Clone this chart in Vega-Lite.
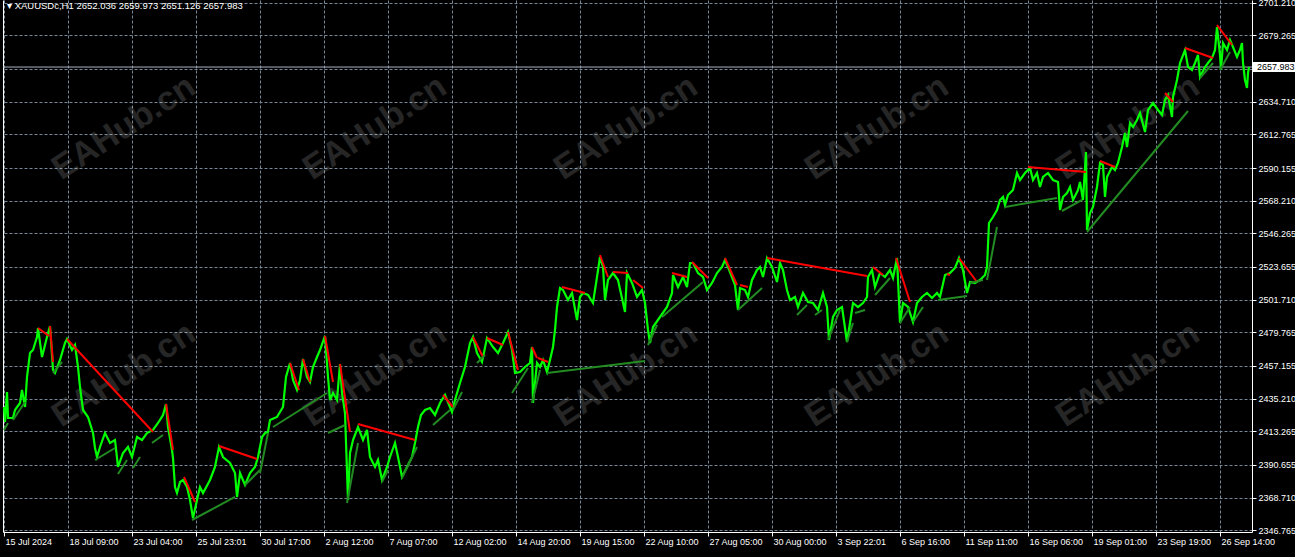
{
  "$schema": "https://vega.github.io/schema/vega-lite/v6.json",
  "width": 1249,
  "height": 532,
  "autosize": {"type": "none"},
  "padding": {"left": 3, "top": 0, "right": 43, "bottom": 25},
  "background": "#000000",
  "title": {
    "text": "▾ XAUUSDc,H1  2652.036 2659.973 2651.126 2657.983",
    "anchor": "start",
    "frame": "group",
    "orient": "top",
    "offset": -12,
    "dx": 4,
    "font": "Liberation Sans",
    "fontSize": 9.5,
    "fontWeight": "normal",
    "color": "#ffffff"
  },
  "config": {
    "view": {"stroke": null},
    "axis": {
      "domainColor": "#ffffff",
      "domainWidth": 1,
      "tickColor": "#ffffff",
      "labelColor": "#ffffff",
      "labelFont": "Liberation Sans",
      "labelFontSize": 9,
      "gridColor": "#778899",
      "gridDash": [3, 2],
      "gridWidth": 1,
      "title": null
    }
  },
  "datasets": {
    "bars": [
      {"bar":0,"price":2429.60},{"bar":1,"price":2419.52},{"bar":3,"price":2439.67},{"bar":4,"price":2422.21},{"bar":9,"price":2422.21},{"bar":11,"price":2427.58},{"bar":16,"price":2432.28},{"bar":18,"price":2441.02},{"bar":21,"price":2429.60},{"bar":23,"price":2449.75},{"bar":26,"price":2465.87},{"bar":29,"price":2467.89},{"bar":33,"price":2476.62},{"bar":34,"price":2482.67},{"bar":38,"price":2463.19},{"bar":43,"price":2476.62},{"bar":46,"price":2484.01},{"bar":49,"price":2454.45},{"bar":51,"price":2452.44},{"bar":56,"price":2461.17},{"bar":61,"price":2472.59},{"bar":63,"price":2475.28},{"bar":68,"price":2467.89},{"bar":71,"price":2471.25},{"bar":74,"price":2456.47},{"bar":76,"price":2443.03},{"bar":79,"price":2427.58},{"bar":84,"price":2422.88},{"bar":89,"price":2412.13},{"bar":91,"price":2402.05},{"bar":93,"price":2396.01},{"bar":96,"price":2402.73},{"bar":101,"price":2412.13},{"bar":106,"price":2405.41},{"bar":111,"price":2407.43},{"bar":114,"price":2389.29},{"bar":119,"price":2398.69},{"bar":124,"price":2402.73},{"bar":128,"price":2396.01},{"bar":133,"price":2409.44},{"bar":138,"price":2407.43},{"bar":143,"price":2412.13},{"bar":149,"price":2414.15},{"bar":154,"price":2418.85},{"bar":159,"price":2424.22},{"bar":162,"price":2431.61},{"bar":164,"price":2416.16},{"bar":168,"price":2400.71},{"bar":169,"price":2395.34},{"bar":171,"price":2375.85},{"bar":173,"price":2371.82},{"bar":176,"price":2379.21},{"bar":179,"price":2380.56},{"bar":183,"price":2375.85},{"bar":186,"price":2367.12},{"bar":189,"price":2355.03},{"bar":193,"price":2367.12},{"bar":196,"price":2375.85},{"bar":199,"price":2371.82},{"bar":206,"price":2380.56},{"bar":211,"price":2389.29},{"bar":215,"price":2402.73},{"bar":219,"price":2396.01},{"bar":226,"price":2391.98},{"bar":231,"price":2385.26},{"bar":233,"price":2369.14},{"bar":236,"price":2385.26},{"bar":241,"price":2377.20},{"bar":246,"price":2385.26},{"bar":251,"price":2389.29},{"bar":254,"price":2396.01},{"bar":258,"price":2409.44},{"bar":261,"price":2412.13},{"bar":264,"price":2412.80},{"bar":266,"price":2420.86},{"bar":273,"price":2422.88},{"bar":279,"price":2429.60},{"bar":282,"price":2449.75},{"bar":286,"price":2459.16},{"bar":289,"price":2447.74},{"bar":293,"price":2441.02},{"bar":296,"price":2447.74},{"bar":299,"price":2461.84},{"bar":303,"price":2449.75},{"bar":306,"price":2446.39},{"bar":309,"price":2456.47},{"bar":313,"price":2463.19},{"bar":316,"price":2467.89},{"bar":321,"price":2477.30},{"bar":324,"price":2449.75},{"bar":326,"price":2434.30},{"bar":329,"price":2439.00},{"bar":333,"price":2434.30},{"bar":336,"price":2458.48},{"bar":338,"price":2439.00},{"bar":341,"price":2425.57},{"bar":344,"price":2367.12},{"bar":346,"price":2398.69},{"bar":349,"price":2407.43},{"bar":354,"price":2416.16},{"bar":359,"price":2407.43},{"bar":363,"price":2414.15},{"bar":366,"price":2396.01},{"bar":371,"price":2389.29},{"bar":374,"price":2393.99},{"bar":378,"price":2380.56},{"bar":383,"price":2389.29},{"bar":386,"price":2396.01},{"bar":391,"price":2405.41},{"bar":394,"price":2396.01},{"bar":398,"price":2382.57},{"bar":403,"price":2389.29},{"bar":408,"price":2396.01},{"bar":411,"price":2405.41},{"bar":414,"price":2416.16},{"bar":417,"price":2424.22},{"bar":421,"price":2427.58},{"bar":426,"price":2428.93},{"bar":431,"price":2424.22},{"bar":436,"price":2432.28},{"bar":441,"price":2437.66},{"bar":448,"price":2426.24},{"bar":451,"price":2434.30},{"bar":456,"price":2445.72},{"bar":461,"price":2456.47},{"bar":466,"price":2472.59},{"bar":469,"price":2476.62},{"bar":473,"price":2465.87},{"bar":478,"price":2459.83},{"bar":483,"price":2475.95},{"bar":489,"price":2469.91},{"bar":494,"price":2465.87},{"bar":499,"price":2472.59},{"bar":504,"price":2479.98},{"bar":508,"price":2467.89},{"bar":511,"price":2452.44},{"bar":516,"price":2453.11},{"bar":521,"price":2456.47},{"bar":526,"price":2459.16},{"bar":528,"price":2469.91},{"bar":529,"price":2432.28},{"bar":533,"price":2459.16},{"bar":536,"price":2456.47},{"bar":539,"price":2461.17},{"bar":543,"price":2453.11},{"bar":546,"price":2461.17},{"bar":549,"price":2469.91},{"bar":551,"price":2481.33},{"bar":553,"price":2496.78},{"bar":556,"price":2509.54},{"bar":559,"price":2508.20},{"bar":564,"price":2501.48},{"bar":568,"price":2506.18},{"bar":573,"price":2488.04},{"bar":576,"price":2503.50},{"bar":579,"price":2506.18},{"bar":584,"price":2504.84},{"bar":589,"price":2499.46},{"bar":593,"price":2516.93},{"bar":596,"price":2530.37},{"bar":599,"price":2523.65},{"bar":601,"price":2501.48},{"bar":604,"price":2514.92},{"bar":609,"price":2519.62},{"bar":614,"price":2514.92},{"bar":621,"price":2493.42},{"bar":623,"price":2519.62},{"bar":628,"price":2512.90},{"bar":633,"price":2503.50},{"bar":638,"price":2508.20},{"bar":641,"price":2499.46},{"bar":644,"price":2481.33},{"bar":646,"price":2472.59},{"bar":649,"price":2483.34},{"bar":656,"price":2490.06},{"bar":663,"price":2496.78},{"bar":668,"price":2506.18},{"bar":669,"price":2518.27},{"bar":674,"price":2510.21},{"bar":679,"price":2516.93},{"bar":683,"price":2510.21},{"bar":686,"price":2526.34},{"bar":689,"price":2526.34},{"bar":694,"price":2519.62},{"bar":699,"price":2516.93},{"bar":703,"price":2508.20},{"bar":708,"price":2512.90},{"bar":713,"price":2519.62},{"bar":718,"price":2523.65},{"bar":721,"price":2528.35},{"bar":726,"price":2520.29},{"bar":731,"price":2511.56},{"bar":734,"price":2494.76},{"bar":736,"price":2509.54},{"bar":741,"price":2508.20},{"bar":744,"price":2503.50},{"bar":748,"price":2514.92},{"bar":753,"price":2521.63},{"bar":756,"price":2523.65},{"bar":759,"price":2516.93},{"bar":763,"price":2529.70},{"bar":768,"price":2523.65},{"bar":773,"price":2513.57},{"bar":776,"price":2526.34},{"bar":779,"price":2521.63},{"bar":783,"price":2508.20},{"bar":786,"price":2501.48},{"bar":791,"price":2503.50},{"bar":794,"price":2496.78},{"bar":799,"price":2506.18},{"bar":804,"price":2500.14},{"bar":809,"price":2499.46},{"bar":814,"price":2494.76},{"bar":819,"price":2506.18},{"bar":823,"price":2496.78},{"bar":825,"price":2474.61},{"bar":829,"price":2490.06},{"bar":833,"price":2494.76},{"bar":838,"price":2496.78},{"bar":843,"price":2473.26},{"bar":846,"price":2486.03},{"bar":849,"price":2499.46},{"bar":854,"price":2496.78},{"bar":859,"price":2499.46},{"bar":863,"price":2503.50},{"bar":864,"price":2516.93},{"bar":868,"price":2521.63},{"bar":871,"price":2510.21},{"bar":876,"price":2519.62},{"bar":881,"price":2516.93},{"bar":886,"price":2521.63},{"bar":889,"price":2516.26},{"bar":893,"price":2529.70},{"bar":896,"price":2486.03},{"bar":899,"price":2499.46},{"bar":904,"price":2496.78},{"bar":909,"price":2486.70},{"bar":913,"price":2499.46},{"bar":918,"price":2503.50},{"bar":923,"price":2506.18},{"bar":928,"price":2502.82},{"bar":933,"price":2506.18},{"bar":936,"price":2503.50},{"bar":941,"price":2518.27},{"bar":946,"price":2519.62},{"bar":951,"price":2522.98},{"bar":955,"price":2529.70},{"bar":959,"price":2521.63},{"bar":963,"price":2506.18},{"bar":966,"price":2513.57},{"bar":971,"price":2512.90},{"bar":976,"price":2514.92},{"bar":981,"price":2518.27},{"bar":983,"price":2523.65},{"bar":985,"price":2553.21},{"bar":989,"price":2557.24},{"bar":993,"price":2561.94},{"bar":996,"price":2568.66},{"bar":999,"price":2570.68},{"bar":1001,"price":2565.30},{"bar":1004,"price":2572.02},{"bar":1009,"price":2575.38},{"bar":1013,"price":2586.80},{"bar":1016,"price":2582.10},{"bar":1021,"price":2586.80},{"bar":1026,"price":2590.16},{"bar":1029,"price":2582.10},{"bar":1033,"price":2586.80},{"bar":1036,"price":2577.39},{"bar":1039,"price":2584.11},{"bar":1044,"price":2586.80},{"bar":1049,"price":2582.10},{"bar":1054,"price":2580.75},{"bar":1056,"price":2561.94},{"bar":1059,"price":2570.68},{"bar":1063,"price":2573.36},{"bar":1066,"price":2577.39},{"bar":1069,"price":2568.66},{"bar":1074,"price":2575.38},{"bar":1076,"price":2580.75},{"bar":1079,"price":2568.66},{"bar":1082,"price":2600.91},{"bar":1083,"price":2548.51},{"bar":1086,"price":2559.93},{"bar":1089,"price":2563.96},{"bar":1093,"price":2577.39},{"bar":1096,"price":2593.52},{"bar":1099,"price":2592.17},{"bar":1101,"price":2570.68},{"bar":1103,"price":2584.11},{"bar":1108,"price":2590.83},{"bar":1111,"price":2588.81},{"bar":1114,"price":2593.52},{"bar":1118,"price":2604.27},{"bar":1121,"price":2613.67},{"bar":1123,"price":2604.27},{"bar":1126,"price":2620.39},{"bar":1129,"price":2617.70},{"bar":1133,"price":2622.40},{"bar":1136,"price":2627.11},{"bar":1141,"price":2614.34},{"bar":1144,"price":2629.12},{"bar":1149,"price":2633.83},{"bar":1154,"price":2629.12},{"bar":1158,"price":2625.76},{"bar":1161,"price":2635.84},{"bar":1164,"price":2639.20},{"bar":1168,"price":2624.42},{"bar":1169,"price":2637.86},{"bar":1173,"price":2649.28},{"bar":1176,"price":2660.70},{"bar":1181,"price":2669.43},{"bar":1184,"price":2658.01},{"bar":1188,"price":2655.99},{"bar":1191,"price":2660.70},{"bar":1194,"price":2666.07},{"bar":1196,"price":2651.29},{"bar":1201,"price":2658.01},{"bar":1204,"price":2660.70},{"bar":1208,"price":2664.06},{"bar":1211,"price":2669.43},{"bar":1213,"price":2684.88},{"bar":1216,"price":2666.07},{"bar":1217,"price":2655.99},{"bar":1219,"price":2674.13},{"bar":1223,"price":2669.43},{"bar":1226,"price":2676.15},{"bar":1229,"price":2671.45},{"bar":1233,"price":2664.73},{"bar":1236,"price":2669.43},{"bar":1238,"price":2674.13},{"bar":1239,"price":2660.70},{"bar":1241,"price":2649.28},{"bar":1243,"price":2643.90},{"bar":1244,"price":2653.98},{"bar":1245,"price":2657.98}
    ],
    "lines": [
      {"kind":"res","bar1":34,"price1":2482.67,"bar2":45,"price2":2477.30},
      {"kind":"res","bar1":46,"price1":2484.01,"bar2":49,"price2":2459.83},
      {"kind":"res","bar1":63,"price1":2475.28,"bar2":149,"price2":2412.80},
      {"kind":"res","bar1":162,"price1":2431.61,"bar2":169,"price2":2400.71},
      {"kind":"res","bar1":180,"price1":2382.57,"bar2":191,"price2":2365.78},
      {"kind":"res","bar1":215,"price1":2403.40,"bar2":253,"price2":2394.66},
      {"kind":"res","bar1":286,"price1":2459.16,"bar2":295,"price2":2441.02},
      {"kind":"res","bar1":299,"price1":2461.84,"bar2":306,"price2":2446.39},
      {"kind":"res","bar1":321,"price1":2477.30,"bar2":329,"price2":2446.39},
      {"kind":"res","bar1":336,"price1":2458.48,"bar2":346,"price2":2412.80},
      {"kind":"res","bar1":354,"price1":2418.18,"bar2":411,"price2":2407.43},
      {"kind":"res","bar1":439,"price1":2437.66,"bar2":449,"price2":2429.60},
      {"kind":"res","bar1":469,"price1":2476.62,"bar2":479,"price2":2463.19},
      {"kind":"res","bar1":483,"price1":2475.95,"bar2":499,"price2":2471.25},
      {"kind":"res","bar1":504,"price1":2479.98,"bar2":514,"price2":2454.45},
      {"kind":"res","bar1":528,"price1":2469.91,"bar2":533,"price2":2462.52},
      {"kind":"res","bar1":534,"price1":2462.52,"bar2":544,"price2":2459.83},
      {"kind":"res","bar1":558,"price1":2510.21,"bar2":581,"price2":2506.18},
      {"kind":"res","bar1":596,"price1":2531.71,"bar2":604,"price2":2516.93},
      {"kind":"res","bar1":609,"price1":2520.29,"bar2":624,"price2":2519.62},
      {"kind":"res","bar1":629,"price1":2514.92,"bar2":639,"price2":2509.54},
      {"kind":"res","bar1":668,"price1":2519.62,"bar2":683,"price2":2516.93},
      {"kind":"res","bar1":688,"price1":2527.01,"bar2":704,"price2":2516.26},
      {"kind":"res","bar1":721,"price1":2529.70,"bar2":733,"price2":2511.56},
      {"kind":"res","bar1":736,"price1":2511.56,"bar2":744,"price2":2510.21},
      {"kind":"res","bar1":763,"price1":2529.70,"bar2":863,"price2":2517.60},
      {"kind":"res","bar1":869,"price1":2523.65,"bar2":879,"price2":2518.27},
      {"kind":"res","bar1":892,"price1":2529.70,"bar2":906,"price2":2500.14},
      {"kind":"res","bar1":943,"price1":2518.95,"bar2":946,"price2":2518.27},
      {"kind":"res","bar1":955,"price1":2529.70,"bar2":973,"price2":2513.57},
      {"kind":"res","bar1":1024,"price1":2590.83,"bar2":1082,"price2":2587.47},
      {"kind":"res","bar1":1096,"price1":2594.86,"bar2":1111,"price2":2590.83},
      {"kind":"res","bar1":1161,"price1":2640.54,"bar2":1169,"price2":2634.50},
      {"kind":"res","bar1":1181,"price1":2670.77,"bar2":1209,"price2":2664.06},
      {"kind":"res","bar1":1213,"price1":2686.23,"bar2":1228,"price2":2672.79},
      {"kind":"sup","bar1":0,"price1":2414.15,"bar2":4,"price2":2418.85},
      {"kind":"sup","bar1":9,"price1":2420.86,"bar2":21,"price2":2432.96},
      {"kind":"sup","bar1":49,"price1":2452.44,"bar2":58,"price2":2459.83},
      {"kind":"sup","bar1":91,"price1":2393.99,"bar2":111,"price2":2402.05},
      {"kind":"sup","bar1":114,"price1":2384.59,"bar2":123,"price2":2393.99},
      {"kind":"sup","bar1":129,"price1":2388.62,"bar2":136,"price2":2396.01},
      {"kind":"sup","bar1":148,"price1":2405.41,"bar2":159,"price2":2410.79},
      {"kind":"sup","bar1":188,"price1":2353.68,"bar2":231,"price2":2369.14},
      {"kind":"sup","bar1":241,"price1":2377.20,"bar2":256,"price2":2387.27},
      {"kind":"sup","bar1":256,"price1":2385.26,"bar2":264,"price2":2412.13},
      {"kind":"sup","bar1":269,"price1":2416.16,"bar2":323,"price2":2439.00},
      {"kind":"sup","bar1":324,"price1":2412.13,"bar2":341,"price2":2417.50},
      {"kind":"sup","bar1":343,"price1":2365.10,"bar2":354,"price2":2405.41},
      {"kind":"sup","bar1":378,"price1":2379.21,"bar2":384,"price2":2387.27},
      {"kind":"sup","bar1":398,"price1":2381.90,"bar2":413,"price2":2402.73},
      {"kind":"sup","bar1":429,"price1":2417.50,"bar2":446,"price2":2427.58},
      {"kind":"sup","bar1":449,"price1":2427.58,"bar2":458,"price2":2439.67},
      {"kind":"sup","bar1":473,"price1":2459.16,"bar2":481,"price2":2464.53},
      {"kind":"sup","bar1":508,"price1":2439.00,"bar2":524,"price2":2455.80},
      {"kind":"sup","bar1":528,"price1":2432.28,"bar2":536,"price2":2454.45},
      {"kind":"sup","bar1":543,"price1":2452.44,"bar2":641,"price2":2460.50},
      {"kind":"sup","bar1":644,"price1":2471.25,"bar2":653,"price2":2484.68},
      {"kind":"sup","bar1":658,"price1":2490.06,"bar2":699,"price2":2513.57},
      {"kind":"sup","bar1":734,"price1":2494.76,"bar2":758,"price2":2509.54},
      {"kind":"sup","bar1":793,"price1":2491.40,"bar2":803,"price2":2498.12},
      {"kind":"sup","bar1":811,"price1":2491.40,"bar2":818,"price2":2494.76},
      {"kind":"sup","bar1":824,"price1":2474.61,"bar2":836,"price2":2494.76},
      {"kind":"sup","bar1":843,"price1":2473.26,"bar2":849,"price2":2486.03},
      {"kind":"sup","bar1":851,"price1":2492.75,"bar2":861,"price2":2494.76},
      {"kind":"sup","bar1":871,"price1":2504.84,"bar2":886,"price2":2516.26},
      {"kind":"sup","bar1":896,"price1":2486.03,"bar2":906,"price2":2496.78},
      {"kind":"sup","bar1":909,"price1":2486.70,"bar2":919,"price2":2496.78},
      {"kind":"sup","bar1":934,"price1":2501.48,"bar2":963,"price2":2504.17},
      {"kind":"sup","bar1":966,"price1":2512.90,"bar2":979,"price2":2514.92},
      {"kind":"sup","bar1":983,"price1":2514.92,"bar2":993,"price2":2550.52},
      {"kind":"sup","bar1":1001,"price1":2563.96,"bar2":1053,"price2":2570.00},
      {"kind":"sup","bar1":1058,"price1":2561.27,"bar2":1078,"price2":2568.66},
      {"kind":"sup","bar1":1083,"price1":2547.16,"bar2":1184,"price2":2628.45},
      {"kind":"sup","bar1":1196,"price1":2650.62,"bar2":1209,"price2":2660.70},
      {"kind":"sup","bar1":1216,"price1":2655.99,"bar2":1226,"price2":2668.09}
    ],
    "watermark": [
      {"bar":120,"price":2617.03,"text":"EAHub.cn"},
      {"bar":371,"price":2617.03,"text":"EAHub.cn"},
      {"bar":622,"price":2617.03,"text":"EAHub.cn"},
      {"bar":873,"price":2617.03,"text":"EAHub.cn"},
      {"bar":1124,"price":2617.03,"text":"EAHub.cn"},
      {"bar":120,"price":2451.09,"text":"EAHub.cn"},
      {"bar":371,"price":2451.09,"text":"EAHub.cn"},
      {"bar":622,"price":2451.09,"text":"EAHub.cn"},
      {"bar":873,"price":2451.09,"text":"EAHub.cn"},
      {"bar":1124,"price":2451.09,"text":"EAHub.cn"}
    ],
    "bid": [{"price": 2657.983}]
  },
  "layer": [
    {
      "data": {"name": "watermark"},
      "mark": {"type": "text", "font": "Liberation Sans", "fontSize": 34, "fontWeight": "bold", "angle": 327, "color": "#ffffff", "opacity": 0.15, "align": "center", "baseline": "middle"},
      "encoding": {
        "x": {
          "field": "bar", "type": "quantitative",
          "scale": {"domain": [-1, 1248], "nice": false, "zero": false},
          "axis": {
            "orient": "bottom",
            "values": [0,32,64,96,128,160,192,224,256,288,320,352,384,416,448,480,512,544,576,608,640,672,704,736,768,800,832,864,896,928,960,992,1024,1056,1088,1120,1152,1184,1216,1248],
            "grid": true,
            "tickSize": 4,
            "tickOpacity": {"condition": {"test": "datum.value % 64 == 0 && datum.value < 1248", "value": 1}, "value": 0},
            "labelAlign": "left",
            "labelBaseline": "top",
            "labelPadding": 1,
            "labelOffset": 1,
            "labelFlush": false,
            "labelOverlap": false,
            "labelBound": false,
            "labelExpr": "datum.value % 64 == 0 && datum.value < 1248 ? ['15 Jul 2024','18 Jul 09:00','23 Jul 04:00','25 Jul 23:01','30 Jul 17:00','2 Aug 12:00','7 Aug 07:00','12 Aug 02:00','14 Aug 20:00','19 Aug 15:00','22 Aug 10:00','27 Aug 05:00','30 Aug 00:00','3 Sep 22:01','6 Sep 16:00','11 Sep 11:00','16 Sep 06:00','19 Sep 01:00','23 Sep 19:00','26 Sep 14:00'][datum.value / 64] : ''"
          }
        },
        "y": {
          "field": "price", "type": "quantitative",
          "scale": {"domain": [2345.62, 2703.02], "nice": false, "zero": false},
          "axis": {
            "orient": "right",
            "values": [2346.765, 2368.71, 2390.655, 2413.265, 2435.21, 2457.155, 2479.765, 2501.71, 2523.655, 2546.265, 2568.21, 2590.155, 2612.765, 2634.71, 2656.82, 2679.265, 2701.21],
            "grid": true,
            "tickSize": 4,
            "labelAlign": "left",
            "labelBaseline": "middle",
            "labelPadding": 2,
            "labelFlush": false,
            "labelOverlap": false,
            "labelBound": false,
            "labelExpr": "datum.value == 2656.82 ? '' : format(datum.value, '.3f')"
          }
        },
        "text": {"field": "text"}
      }
    },
    {
      "data": {"name": "bid"},
      "mark": {"type": "rule", "color": "#a9b3c4", "strokeWidth": 1},
      "encoding": {
        "y": {"field": "price", "type": "quantitative", "axis": null}
      }
    },
    {
      "data": {"name": "bars"},
      "mark": {"type": "line", "color": "#00ff00", "strokeWidth": 2.2, "strokeJoin": "miter"},
      "encoding": {
        "x": {"field": "bar", "type": "quantitative"},
        "y": {"field": "price", "type": "quantitative", "axis": null}
      }
    },
    {
      "data": {"name": "lines"},
      "mark": {"type": "rule", "strokeWidth": 2},
      "encoding": {
        "x": {"field": "bar1", "type": "quantitative"},
        "x2": {"field": "bar2"},
        "y": {
          "field": "price1", "type": "quantitative",
          "axis": {"orient": "left", "labels": false, "ticks": false, "grid": false, "domainColor": "#ffffff"}
        },
        "y2": {"field": "price2"},
        "color": {"field": "kind", "type": "nominal", "scale": {"domain": ["res", "sup"], "range": ["#ff0000", "#228b22"]}, "legend": null}
      }
    },
    {
      "data": {"name": "bid"},
      "mark": {"type": "rect", "color": "#ffffff", "yOffset": -5, "y2Offset": 5},
      "encoding": {
        "x": {"datum": 1249, "type": "quantitative"},
        "x2": {"datum": 1292},
        "y": {"field": "price", "type": "quantitative", "axis": null},
        "y2": {"field": "price"}
      }
    },
    {
      "data": {"name": "bid"},
      "mark": {"type": "text", "color": "#000000", "font": "Liberation Sans", "fontSize": 9, "align": "left", "baseline": "middle", "dx": 4},
      "encoding": {
        "x": {"datum": 1249, "type": "quantitative"},
        "y": {"field": "price", "type": "quantitative", "axis": null},
        "text": {"field": "price", "type": "quantitative", "format": ".3f"}
      }
    }
  ],
  "resolve": {"axis": {"y": "independent"}}
}
